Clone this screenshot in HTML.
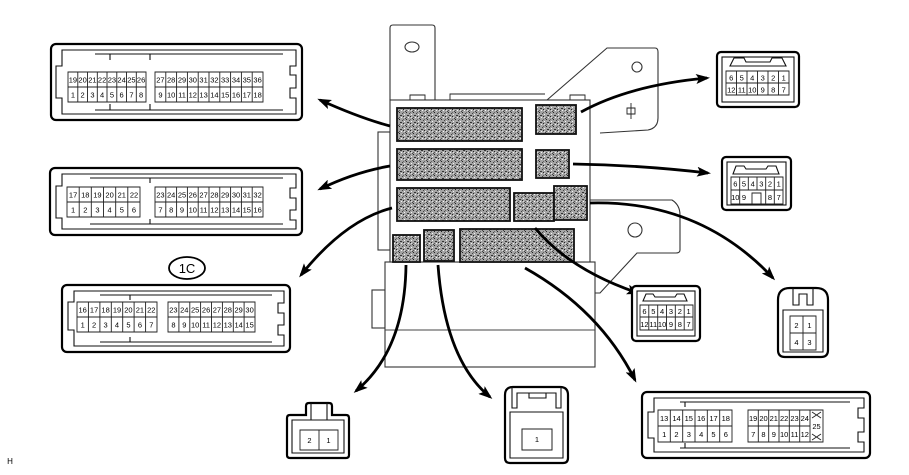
<!DOCTYPE html>
<html><head><meta charset="utf-8"><style>
html,body{margin:0;padding:0;background:#fff;}
svg{display:block;}
text{font-family:"Liberation Sans",sans-serif;font-size:7.5px;fill:#000;text-anchor:middle;}
.o{fill:#fff;stroke:#000;stroke-width:2.2;}
.i{fill:none;stroke:#111;stroke-width:1.1;}
.g{fill:none;stroke:#222;stroke-width:0.9;}
.h{fill:#fff;stroke:#333;stroke-width:1.1;}
.s{fill:url(#sp);stroke:#111;stroke-width:1.8;}
.a{fill:none;stroke:#000;stroke-width:2.8;marker-end:url(#ar);}
</style></head><body>
<svg width="909" height="475" viewBox="0 0 909 475" xmlns="http://www.w3.org/2000/svg">
<defs>
<pattern id="sp" width="7" height="7" patternUnits="userSpaceOnUse">
<rect width="7" height="7" fill="#a4a4a4"/>
<rect x="0" y="0" width="1" height="1" fill="#222"/><rect x="3" y="1" width="1" height="1" fill="#444"/>
<rect x="1" y="3" width="2" height="1" fill="#333"/><rect x="4" y="4" width="1" height="1" fill="#222"/>
<rect x="2" y="5" width="1" height="1" fill="#f4f4f4"/><rect x="5" y="2" width="1" height="1" fill="#f4f4f4"/>
<rect x="6" y="6" width="1" height="1" fill="#444"/><rect x="5" y="5" width="1" height="1" fill="#ddd"/>
<rect x="4" y="0" width="1" height="1" fill="#666"/><rect x="0" y="5" width="1" height="1" fill="#555"/>
</pattern>
<marker id="ar" markerWidth="14" markerHeight="10" refX="11" refY="5" orient="auto" markerUnits="userSpaceOnUse" viewBox="0 0 14 10"><path d="M0,0 L14,5 L0,10 L3,5 Z" fill="#000"/></marker>
</defs>

<!-- central unit -->
<path class="h" d="M390,100 V28 Q390,25 393,25 H432 Q435,25 435,28 V100"/>
<ellipse cx="412" cy="47" rx="7" ry="5" class="h"/>
<path class="h" d="M547,100 L607,48 H655 Q658,48 658,52 V118 Q658,128 648,130 L600,133"/>
<circle cx="637" cy="67" r="5" class="h"/>
<path d="M631,103 V119 M627,108 H635 V114 H627 Z" class="g"/>
<path class="h" d="M590,200 H672 Q680,205 680,215 V250 Q680,253 676,253 H637 L600,293 H595"/>
<circle cx="635" cy="230" r="7" class="h"/>
<rect x="378" y="132" width="12" height="118" class="h"/>
<rect x="372" y="290" width="13" height="38" class="h"/>
<rect x="385" y="262" width="210" height="105" class="h"/>
<line x1="385" y1="330" x2="595" y2="330" stroke="#444"/>
<rect x="390" y="100" width="200" height="162" class="h"/>
<path d="M410,100 V95 H425 V100 M450,100 V94 H545 M570,100 V95 H585 V100" class="g"/>

<rect x="397" y="108" width="125" height="33" class="s"/>
<rect x="536" y="105" width="40" height="29" class="s"/>
<rect x="397" y="149" width="125" height="31" class="s"/>
<rect x="536" y="150" width="33" height="28" class="s"/>
<rect x="397" y="188" width="113" height="33" class="s"/>
<rect x="514" y="193" width="40" height="28" class="s"/>
<rect x="554" y="186" width="33" height="34" class="s"/>
<rect x="393" y="235" width="27" height="27" class="s"/>
<rect x="424" y="230" width="30" height="31" class="s"/>
<rect x="460" y="229" width="114" height="33" class="s"/>

<!-- arrows -->
<path class="a" d="M390,126 Q360,118 320,100"/>
<path class="a" d="M390,166 Q355,172 320,189"/>
<path class="a" d="M392,208 Q345,220 301,275"/>
<path class="a" d="M581,112 Q630,85 707,78"/>
<path class="a" d="M573,164 Q640,165 708,173"/>
<path class="a" d="M590,203 Q700,200 773,278"/>
<path class="a" d="M535,228 Q570,270 638,293"/>
<path class="a" d="M525,268 Q600,310 635,380"/>
<path class="a" d="M406,265 Q405,350 356,391"/>
<path class="a" d="M438,265 Q445,360 490,397"/>

<!-- Connector A -->
<rect x="51" y="44" width="251" height="76" rx="5" class="o"/>
<path class="i" d="M62,50 H296 V66 H290 V75 H296 V88 H290 V98 H296 V114 H62 V98 H56 V66 H62 Z"/>
<path class="i" d="M95,54 H283 M95,110 H283 M150,54 V60 M150,110 V104 M110,54 V60 M110,110 V104"/>
<path class="g" d="M68,72 H146 V102 H68 Z M68,87 H146 M155,72 H263 V102 H155 Z M155,87 H263 M77.8,72V102M87.5,72V102M97.3,72V102M107,72V102M116.8,72V102M126.5,72V102M136.3,72V102 M165.8,72V102M176.6,72V102M187.4,72V102M198.2,72V102M209,72V102M219.8,72V102M230.6,72V102M241.4,72V102M252.2,72V102"/>
<text x="72.9" y="82.5">19</text><text x="82.6" y="82.5">20</text><text x="92.4" y="82.5">21</text><text x="102.1" y="82.5">22</text><text x="111.9" y="82.5">23</text><text x="121.6" y="82.5">24</text><text x="131.4" y="82.5">25</text><text x="141.1" y="82.5">26</text>
<text x="160.4" y="82.5">27</text><text x="171.2" y="82.5">28</text><text x="182" y="82.5">29</text><text x="192.8" y="82.5">30</text><text x="203.6" y="82.5">31</text><text x="214.4" y="82.5">32</text><text x="225.2" y="82.5">33</text><text x="236" y="82.5">34</text><text x="246.8" y="82.5">35</text><text x="257.6" y="82.5">36</text>
<text x="72.9" y="97.5">1</text><text x="82.6" y="97.5">2</text><text x="92.4" y="97.5">3</text><text x="102.1" y="97.5">4</text><text x="111.9" y="97.5">5</text><text x="121.6" y="97.5">6</text><text x="131.4" y="97.5">7</text><text x="141.1" y="97.5">8</text>
<text x="160.4" y="97.5">9</text><text x="171.2" y="97.5">10</text><text x="182" y="97.5">11</text><text x="192.8" y="97.5">12</text><text x="203.6" y="97.5">13</text><text x="214.4" y="97.5">14</text><text x="225.2" y="97.5">15</text><text x="236" y="97.5">16</text><text x="246.8" y="97.5">17</text><text x="257.6" y="97.5">18</text>

<!-- Connector B -->
<rect x="50" y="168" width="252" height="67" rx="5" class="o"/>
<path class="i" d="M62,174 H296 V188 H290 V198 H296 V210 H290 V220 H296 V229 H62 V218 H56 V186 H62 Z"/>
<path class="i" d="M90,178 H283 M90,224 H283 M150,178 V183 M150,224 V219"/>
<path class="g" d="M67,187 H140 V217 H67 Z M67,202 H140 M79.2,187V217M91.3,187V217M103.5,187V217M115.7,187V217M127.8,187V217 M155,187 H263 V217 H155 Z M155,202 H263 M165.8,187V217M176.6,187V217M187.4,187V217M198.2,187V217M209,187V217M219.8,187V217M230.6,187V217M241.4,187V217M252.2,187V217"/>
<text x="73.1" y="197.5">17</text><text x="85.3" y="197.5">18</text><text x="97.4" y="197.5">19</text><text x="109.6" y="197.5">20</text><text x="121.8" y="197.5">21</text><text x="134" y="197.5">22</text>
<text x="160.4" y="197.5">23</text><text x="171.2" y="197.5">24</text><text x="182" y="197.5">25</text><text x="192.8" y="197.5">26</text><text x="203.6" y="197.5">27</text><text x="214.4" y="197.5">28</text><text x="225.2" y="197.5">29</text><text x="236" y="197.5">30</text><text x="246.8" y="197.5">31</text><text x="257.6" y="197.5">32</text>
<text x="73.1" y="212.5">1</text><text x="85.3" y="212.5">2</text><text x="97.4" y="212.5">3</text><text x="109.6" y="212.5">4</text><text x="121.8" y="212.5">5</text><text x="134" y="212.5">6</text>
<text x="160.4" y="212.5">7</text><text x="171.2" y="212.5">8</text><text x="182" y="212.5">9</text><text x="192.8" y="212.5">10</text><text x="203.6" y="212.5">11</text><text x="214.4" y="212.5">12</text><text x="225.2" y="212.5">13</text><text x="236" y="212.5">14</text><text x="246.8" y="212.5">15</text><text x="257.6" y="212.5">16</text>

<!-- 1C -->
<ellipse cx="187" cy="268" rx="18" ry="11" fill="#fff" stroke="#000" stroke-width="1.8"/>
<text x="187" y="273" style="font-size:13px">1C</text>

<!-- Connector C -->
<rect x="62" y="285" width="228" height="67" rx="5" class="o"/>
<path class="i" d="M74,291 H284 V303 H278 V313 H284 V325 H278 V335 H284 V346 H74 V330 H68 V302 H74 Z"/>
<path class="i" d="M100,295 H272 M100,342 H272 M130,295 V300 M130,342 V337"/>
<path class="g" d="M77,302 H157 V332 H77 Z M77,317 H157 M88.4,302V332M99.9,302V332M111.3,302V332M122.7,302V332M134.1,302V332M145.6,302V332 M168,302 H255 V332 H168 Z M168,317 H255 M178.9,302V332M189.8,302V332M200.6,302V332M211.5,302V332M222.4,302V332M233.3,302V332M244.1,302V332"/>
<text x="82.7" y="312.5">16</text><text x="94.1" y="312.5">17</text><text x="105.6" y="312.5">18</text><text x="117" y="312.5">19</text><text x="128.4" y="312.5">20</text><text x="139.9" y="312.5">21</text><text x="151.3" y="312.5">22</text>
<text x="173.4" y="312.5">23</text><text x="184.3" y="312.5">24</text><text x="195.2" y="312.5">25</text><text x="206.1" y="312.5">26</text><text x="216.9" y="312.5">27</text><text x="227.8" y="312.5">28</text><text x="238.7" y="312.5">29</text><text x="249.6" y="312.5">30</text>
<text x="82.7" y="327.5">1</text><text x="94.1" y="327.5">2</text><text x="105.6" y="327.5">3</text><text x="117" y="327.5">4</text><text x="128.4" y="327.5">5</text><text x="139.9" y="327.5">6</text><text x="151.3" y="327.5">7</text>
<text x="173.4" y="327.5">8</text><text x="184.3" y="327.5">9</text><text x="195.2" y="327.5">10</text><text x="206.1" y="327.5">11</text><text x="216.9" y="327.5">12</text><text x="227.8" y="327.5">13</text><text x="238.7" y="327.5">14</text><text x="249.6" y="327.5">15</text>

<!-- Connector D -->
<rect x="642" y="392" width="228" height="66" rx="5" class="o"/>
<path class="i" d="M654,398 H864 V408 H858 V418 H864 V432 H858 V442 H864 V452 H654 V438 H648 V412 H654 Z"/>
<path class="i" d="M680,402 H850 M680,448 H850 M685,402 V407 M685,448 V443"/>
<path class="g" d="M658,410 H732 V442 H658 Z M658,426 H732 M670.3,410V442M682.7,410V442M695,410V442M707.3,410V442M719.7,410V442 M748,410 H823 V442 H748 Z M748,426 H810 M758.3,410V442M768.7,410V442M779,410V442M789.3,410V442M799.7,410V442M810,410V442 M812,412 L821,418 M821,412 L812,418 M812,434 L821,440 M821,434 L812,440"/>
<text x="664.2" y="421">13</text><text x="676.5" y="421">14</text><text x="688.8" y="421">15</text><text x="701.2" y="421">16</text><text x="713.5" y="421">17</text><text x="725.8" y="421">18</text>
<text x="753.2" y="421">19</text><text x="763.5" y="421">20</text><text x="773.8" y="421">21</text><text x="784.2" y="421">22</text><text x="794.5" y="421">23</text><text x="804.8" y="421">24</text><text x="816.5" y="429">25</text>
<text x="664.2" y="437">1</text><text x="676.5" y="437">2</text><text x="688.8" y="437">3</text><text x="701.2" y="437">4</text><text x="713.5" y="437">5</text><text x="725.8" y="437">6</text>
<text x="753.2" y="437">7</text><text x="763.5" y="437">8</text><text x="773.8" y="437">9</text><text x="784.2" y="437">10</text><text x="794.5" y="437">11</text><text x="804.8" y="437">12</text>

<!-- Connector E -->
<rect x="717" y="52" width="82" height="55" rx="4" class="o"/>
<rect x="722" y="57" width="72" height="45" class="i"/>
<path class="i" d="M730,66 L734,58 H744 L746,62 H770 L772,58 H782 L786,66 Z"/>
<path class="g" d="M726,71 H789 V95 H726 Z M726,83 H789 M736.5,71V95M747,71V95M757.5,71V95M768,71V95M778.5,71V95"/>
<text x="731.25" y="80.5">6</text><text x="741.75" y="80.5">5</text><text x="752.25" y="80.5">4</text><text x="762.75" y="80.5">3</text><text x="773.25" y="80.5">2</text><text x="783.75" y="80.5">1</text>
<text x="731.25" y="92.5">12</text><text x="741.75" y="92.5">11</text><text x="752.25" y="92.5">10</text><text x="762.75" y="92.5">9</text><text x="773.25" y="92.5">8</text><text x="783.75" y="92.5">7</text>

<!-- Connector F -->
<rect x="722" y="157" width="69" height="53" rx="4" class="o"/>
<rect x="727" y="162" width="59" height="43" class="i"/>
<path class="i" d="M733,174 L736,166 H744 L746,169 H766 L768,166 H776 L779,174 Z"/>
<path class="g" d="M731,177 H783 V204 H731 Z M731,190 H783 M739.7,177V204M748.3,177V190M757,177V190M765.7,177V204M774.3,177V204 M752,204 V193 H761 V204"/>
<text x="735.3" y="186.5">6</text><text x="744" y="186.5">5</text><text x="752.7" y="186.5">4</text><text x="761.3" y="186.5">3</text><text x="770" y="186.5">2</text><text x="778.7" y="186.5">1</text>
<text x="735.3" y="200">10</text><text x="744" y="200">9</text><text x="770" y="200">8</text><text x="778.7" y="200">7</text>

<!-- Connector G -->
<rect x="632" y="286" width="68" height="55" rx="4" class="o"/>
<rect x="637" y="291" width="58" height="45" class="i"/>
<path class="i" d="M643,301 L646,294 H653 L655,297 H675 L677,294 H684 L687,301 Z"/>
<path class="g" d="M640,305 H693 V330 H640 Z M640,317 H693 M648.8,305V330M657.7,305V330M666.5,305V330M675.3,305V330M684.2,305V330"/>
<text x="644.4" y="314">6</text><text x="653.3" y="314">5</text><text x="662.1" y="314">4</text><text x="671" y="314">3</text><text x="679.8" y="314">2</text><text x="688.6" y="314">1</text>
<text x="644.4" y="327">12</text><text x="653.3" y="327">11</text><text x="662.1" y="327">10</text><text x="671" y="327">9</text><text x="679.8" y="327">8</text><text x="688.6" y="327">7</text>

<!-- Connector H (4 pin) -->
<path class="o" d="M778,300 Q778,288 790,288 H816 Q828,288 828,300 V350 Q828,357 821,357 H785 Q778,357 778,350 Z"/>
<path class="i" d="M793,288 V305 H799 V294 H807 V305 H813 V288 M783,310 H823 V352 H783 Z"/>
<path class="g" d="M790,316 H816 V350 H790 Z M790,333 H816 M803,316V350"/>
<text x="796.5" y="328">2</text><text x="809.5" y="328">1</text><text x="796.5" y="345">4</text><text x="809.5" y="345">3</text>

<!-- Connector I (2 pin) -->
<path class="o" d="M306,406 Q306,403 309,403 H329 Q332,403 332,406 V415 H346 Q349,415 349,418 V455 Q349,458 346,458 H290 Q287,458 287,455 V418 Q287,415 290,415 H306 Z"/>
<path class="i" d="M311,403 V420 H327 V403 M292,420 H344 V453 H292 Z"/>
<path class="g" d="M300,430 H338 V450 H300 Z M319,430 V450"/>
<text x="309.5" y="443">2</text><text x="328.5" y="443">1</text>

<!-- Connector J (1 pin) -->
<path class="o" d="M505,395 Q505,387 513,387 H560 Q568,387 568,395 V458 Q568,463 563,463 H510 Q505,463 505,458 Z"/>
<path class="i" d="M512,387 V408 H517 V393 H556 V408 H561 V387 M510,412 H563 V458 H510 Z M529,393 V398 H546 V393"/>
<rect x="522" y="429" width="30" height="21" class="g" style="stroke-width:1"/>
<text x="537" y="442">1</text>

<text x="10" y="464" style="font-size:8px">H</text>
</svg>
</body></html>
